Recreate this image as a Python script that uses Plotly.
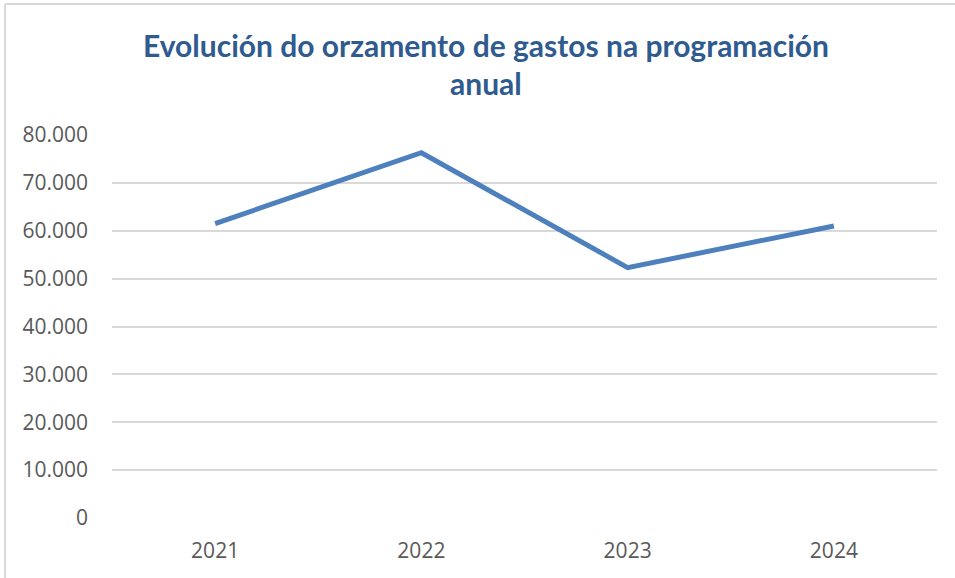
import plotly.graph_objects as go

years = ["2021", "2022", "2023", "2024"]
gastos = [61500, 76300, 52300, 61000]
y_ticks = [0, 10000, 20000, 30000, 40000, 50000, 60000, 70000, 80000]
title_line1 = "Evolución do orzamento de gastos na programación"
title_line2 = "anual"

W, H = 955, 578
L, R, T, B = 112, 18, 135, 60
pw, ph = W - L - R, H - T - B

def px_x(x):
    return (x - L) / pw

def px_y(y):
    return (H - B - y) / ph

fig = go.Figure()
fig.add_trace(go.Scatter(
    x=years, y=gastos, mode="lines",
    line=dict(color="#4E80BD", width=5),
    hoverinfo="x+y",
))

title_font = dict(family="Lato, 'Open Sans', sans-serif", size=30, color="#2F5B8F")
fig.add_annotation(text="<b>%s</b>" % title_line1, xref="paper", yref="paper",
                   x=px_x(486), y=px_y(45), xanchor="center", yanchor="middle",
                   showarrow=False, font=title_font)
fig.add_annotation(text="<b>%s</b>" % title_line2, xref="paper", yref="paper",
                   x=px_x(486), y=px_y(83), xanchor="center", yanchor="middle",
                   showarrow=False, font=title_font)

border = dict(color="#D9D9D9", width=2)
fig.add_shape(type="line", xref="paper", yref="paper",
              x0=px_x(5), x1=px_x(956), y0=px_y(4), y1=px_y(4), line=border)
fig.add_shape(type="line", xref="paper", yref="paper",
              x0=px_x(5), x1=px_x(5), y0=px_y(4), y1=px_y(579), line=border)

fig.update_layout(
    width=W, height=H,
    margin=dict(l=L, r=R, t=T, b=B, pad=0),
    paper_bgcolor="white", plot_bgcolor="white",
    showlegend=False,
    separators=",.",
    font=dict(family="'Open Sans', sans-serif", color="#595959", size=21),
)
fig.update_xaxes(
    type="category", range=[-0.5, 3.5],
    showgrid=False, zeroline=False, showline=False,
    ticks="", tickfont=dict(size=21, color="#595959"),
    ticklabelstandoff=18,
)
fig.update_yaxes(
    range=[0, 80000], tickvals=y_ticks, tickformat=",d",
    showgrid=True, gridcolor="#D9D9D9", gridwidth=1.5,
    zeroline=False, showline=False, ticks="",
    tickfont=dict(size=21, color="#595959"),
    ticklabelstandoff=23,
)

fig.write_html("out.html", config={"displayModeBar": False},
               post_script="document.body.style.margin='0';document.body.style.padding='0';")
